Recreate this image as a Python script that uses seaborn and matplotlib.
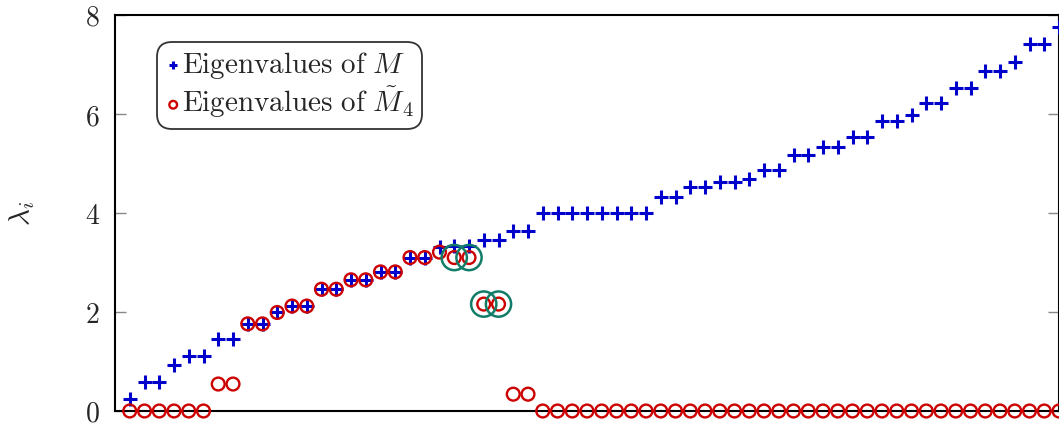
import numpy as np
import pandas as pd
import seaborn as sns
import matplotlib.pyplot as plt

sns.set_style("white")
plt.rcParams.update({"mathtext.fontset": "cm", "font.size": 20})

# eigenvalues, sorted
eig_M = [0.24, 0.59, 0.59, 0.93, 1.11, 1.11, 1.45, 1.45, 1.76, 1.76,
         1.99, 2.12, 2.12, 2.46, 2.46, 2.65, 2.65, 2.81, 2.81, 3.10,
         3.10, 3.32, 3.34, 3.34, 3.45, 3.45, 3.64, 3.64, 4.0, 4.0,
         4.0, 4.0, 4.0, 4.0, 4.0, 4.0, 4.33, 4.33, 4.52, 4.52,
         4.63, 4.63, 4.68, 4.87, 4.87, 5.17, 5.17, 5.34, 5.34, 5.53,
         5.53, 5.86, 5.86, 5.98, 6.22, 6.22, 6.52, 6.52, 6.87, 6.87,
         7.06, 7.41, 7.41, 7.75]
eig_M4 = [0, 0, 0, 0, 0, 0, 0.545, 0.545, 1.76, 1.76,
          1.99, 2.12, 2.12, 2.46, 2.46, 2.65, 2.65, 2.81, 2.81, 3.10,
          3.10, 3.21, 3.10, 3.10, 2.16, 2.16, 0.34, 0.34] + [0] * 36
highlight = [22, 23, 24, 25]

df = pd.DataFrame({"i": np.arange(len(eig_M)), "M": eig_M, "M4": eig_M4})
hl = df.loc[highlight]

blue = "#0000cc"
red = "#cc0000"
green = "#117d68"

fig = plt.figure(figsize=(10.59, 4.25), dpi=100)
ax = fig.add_axes([115 / 1059, 14 / 425, 944 / 1059, 396 / 425])

sns.scatterplot(data=df, x="i", y="M", marker="+", s=110, linewidth=2.2,
                color=blue, ax=ax, zorder=3, clip_on=False,
                label=r"$\mathrm{Eigenvalues\ of}\ M$")
sns.scatterplot(data=df, x="i", y="M4", marker="o", s=85, linewidth=1.7,
                facecolor="none", edgecolor=red, ax=ax, zorder=4, clip_on=False,
                label=r"$\mathrm{Eigenvalues\ of}\ \tilde{M}_4$")
sns.scatterplot(data=hl, x="i", y="M4", marker="o", s=330, linewidth=1.8,
                facecolor="none", edgecolor=green, ax=ax, zorder=5, clip_on=False)

ax.set_xlim(-1, 63)
ax.set_ylim(0, 8)
ax.set_xticks([])
ax.set_yticks([0, 2, 4, 6, 8])
ax.set_yticklabels([f"${v}$" for v in [0, 2, 4, 6, 8]])
ax.tick_params(axis="y", direction="in", length=8, width=1, color="#888888",
               left=True, right=True, pad=11, labelsize=20)
ax.set_xlabel("")
ax.set_ylabel(r"$\lambda_i$", fontsize=21)
ax.yaxis.set_label_coords(-0.083, 0.5)

for side in ["left", "bottom", "top", "right"]:
    ax.spines[side].set_visible(True)
    ax.spines[side].set_color("black")
    ax.spines[side].set_linewidth(1.5)

leg = ax.legend(loc="upper left", bbox_to_anchor=(0.0445, 0.932), borderaxespad=0,
                fontsize=21, frameon=True, fancybox=True, edgecolor="black",
                handletextpad=0.02, handlelength=0.55, borderpad=0.28,
                labelspacing=0.12, markerscale=0.6)
leg.get_frame().set_linewidth(1.3)
leg.get_frame().set_boxstyle("round", pad=0.0, rounding_size=0.5)

plt.savefig("out.png", dpi=100)
